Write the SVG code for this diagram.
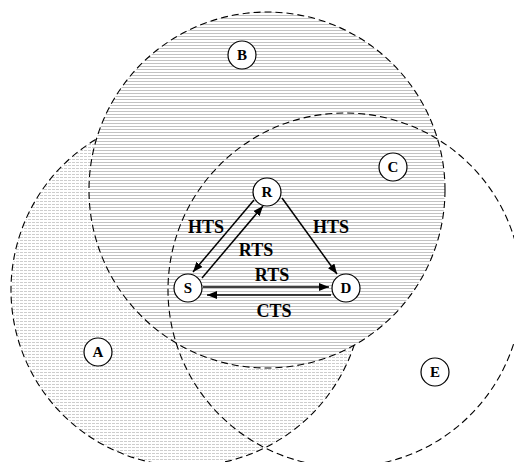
<svg xmlns="http://www.w3.org/2000/svg" width="514" height="462" viewBox="0 0 514 462">
<style>
.range{stroke:#000;stroke-width:1.1;stroke-dasharray:7 4}
.node circle{fill:#fff;stroke:#000;stroke-width:1.2}
.node text,.lbl{font-family:"Liberation Serif","Times New Roman",serif;font-weight:bold;fill:#000;text-anchor:middle}
.node text{font-size:15px}
.lbl{font-size:18px}
.edge{stroke:#000;stroke-width:1.5;fill:none;marker-end:url(#ah)}
</style>
<defs>
<pattern id="pS" patternUnits="userSpaceOnUse" width="4" height="3">
<rect x="0" y="0" width="3" height="1" fill="#cdcdcd"/>
</pattern>
<pattern id="pR" patternUnits="userSpaceOnUse" width="4" height="3">
<rect x="0" y="0" width="4" height="3" fill="#fff"/>
<rect x="0" y="0" width="4" height="1" fill="#c2c2c2"/>
</pattern>
<marker id="ah" viewBox="0 0 10 8" refX="10" refY="4" markerWidth="10" markerHeight="8" markerUnits="userSpaceOnUse" orient="auto">
<path d="M0,0 L10,4 L0,8 Z" fill="#000"/>
</marker>
</defs>
<g id="ranges">
<circle id="rangeS" class="range" cx="187" cy="290" r="176" fill="url(#pS)"/>
<circle id="rangeR" class="range" cx="267" cy="190" r="178" fill="url(#pR)"/>
<circle id="rangeD" class="range" cx="345" cy="290" r="177" fill="none"/>
</g>
<g id="connectors">
<line class="edge" x1="254" y1="200" x2="193" y2="272"/>
<line class="edge" x1="202" y1="278" x2="263" y2="206"/>
<line class="edge" x1="282" y1="198" x2="337" y2="274"/>
<line class="edge" x1="203" y1="287" x2="329" y2="287"/>
<line class="edge" x1="331" y1="295" x2="207" y2="295"/>
</g>
<g id="labels">
<text class="lbl" x="206" y="233">HTS</text>
<text class="lbl" x="331" y="233">HTS</text>
<text class="lbl" x="256" y="256">RTS</text>
<text class="lbl" x="272" y="281">RTS</text>
<text class="lbl" x="274" y="317">CTS</text>
</g>
<g id="nodeR" class="node"><circle cx="267" cy="192" r="14"/><text x="267" y="197">R</text></g>
<g id="nodeS" class="node"><circle cx="188" cy="288" r="14"/><text x="188" y="293">S</text></g>
<g id="nodeD" class="node"><circle cx="346" cy="288" r="14"/><text x="346" y="293">D</text></g>
<g id="nodeA" class="node"><circle cx="98" cy="352" r="14"/><text x="98" y="357">A</text></g>
<g id="nodeB" class="node"><circle cx="242" cy="55" r="14"/><text x="242" y="60">B</text></g>
<g id="nodeC" class="node"><circle cx="393" cy="167" r="14"/><text x="393" y="172">C</text></g>
<g id="nodeE" class="node"><circle cx="435" cy="372" r="14"/><text x="435" y="377">E</text></g>
</svg>
